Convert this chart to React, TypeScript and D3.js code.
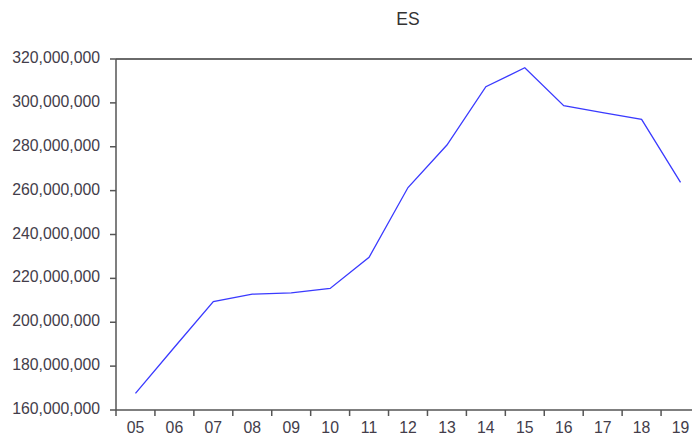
import React from "react";
import * as d3 from "d3";

const years = ["05","06","07","08","09","10","11","12","13","14","15","16","17","18","19"];
const values = [167.6e6,188.6e6,209.4e6,212.8e6,213.4e6,215.4e6,229.6e6,261.4e6,280.8e6,307.4e6,316.0e6,298.7e6,295.6e6,292.5e6,263.8e6];
const yTicks = [160e6,180e6,200e6,220e6,240e6,260e6,280e6,300e6,320e6];
const title = "ES";

export default function App() {
  const W = 692, H = 435;
  const left = 116, right = 700, top = 59, bottom = 410;
  const x = d3.scaleBand<string>().domain(years).range([left, right]);
  const y = d3.scaleLinear().domain([160e6, 320e6]).range([bottom, top]);
  const fmt = d3.format(",");
  const line = d3.line<number>()
    .x((_, i) => (x(years[i]) as number) + x.bandwidth() / 2)
    .y((d) => y(d));
  const font = "Arial, 'Liberation Sans', sans-serif";
  const textColor = "#433d4a";
  const axisColor = "#555";
  return (
    <div style={{ position: "fixed", left: 0, top: 0 }}>
      <svg width={W} height={H} style={{ display: "block", background: "#fff" }}>
        <text x={(left + right) / 2} y={25} textAnchor="middle" fontFamily={font} fontSize={17.5} fill="#333">{title}</text>
        <line x1={left} x2={right} y1={top} y2={top} stroke="#6a6a6a" strokeWidth={2} />
        <line x1={left} x2={left} y1={top} y2={bottom} stroke={axisColor} strokeWidth={1.5} />
        <line x1={left} x2={right} y1={bottom} y2={bottom} stroke={axisColor} strokeWidth={1.5} />
        {yTicks.map((t) => (
          <g key={t}>
            <line x1={left - 6} x2={left} y1={y(t)} y2={y(t)} stroke={axisColor} strokeWidth={1.5} />
            <text x={100} y={y(t) + 4} textAnchor="end" fontFamily={font} fontSize={15.8} fill={textColor}>{fmt(t)}</text>
          </g>
        ))}
        {years.map((yr) => (
          <g key={yr}>
            <line x1={x(yr) as number} x2={x(yr) as number} y1={bottom} y2={bottom + 6} stroke={axisColor} strokeWidth={1.5} />
            <text x={(x(yr) as number) + x.bandwidth() / 2} y={433} textAnchor="middle" fontFamily={font} fontSize={15.8} fill={textColor}>{yr}</text>
          </g>
        ))}
        <path d={line(values) || ""} fill="none" stroke="#3a3aff" strokeWidth={1.3} />
      </svg>
    </div>
  );
}
